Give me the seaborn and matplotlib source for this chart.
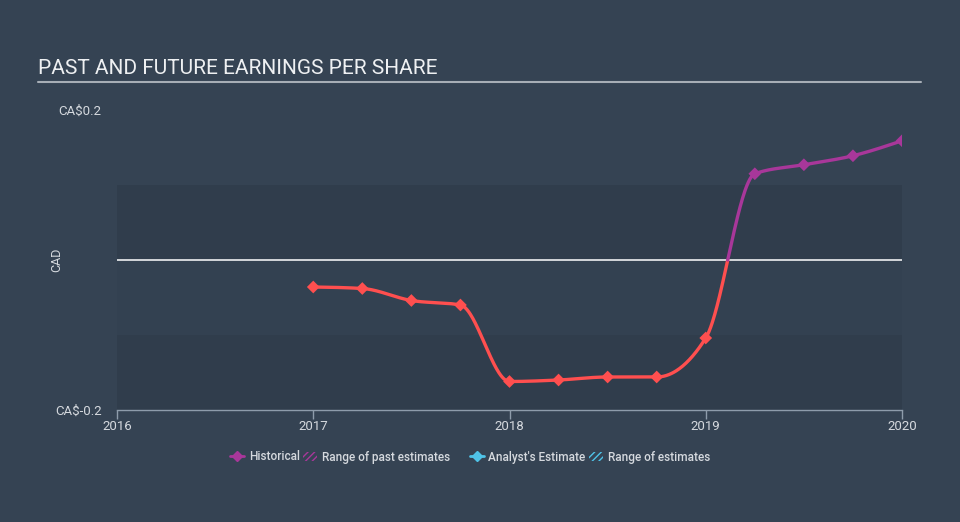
import numpy as np
import pandas as pd
import seaborn as sns
import matplotlib
matplotlib.use("Agg")
import matplotlib.pyplot as plt
from matplotlib.lines import Line2D
from matplotlib.patches import Patch

# ---- data ----
periods = [2017.0, 2017.25, 2017.5, 2017.75, 2018.0, 2018.25, 2018.5, 2018.75,
           2019.0, 2019.25, 2019.5, 2019.75, 2020.0]
eps = [-0.036, -0.038, -0.054, -0.060, -0.162, -0.160, -0.156, -0.156,
       -0.104, 0.115, 0.127, 0.139, 0.159]
year_ticks = [2016, 2017, 2018, 2019, 2020]
y_ticks = [-0.2, 0.2]
y_tick_labels = ["CA$-0.2", "CA$0.2"]

RED = "#ff4f4f"
PURPLE = "#a8379a"
BG = "#354353"
BAND = "#303d4c"
TXT = "#d5d9de"
AXC = "#8e9cab"

sns.set_theme(style="dark")
plt.rcParams["font.family"] = ["Roboto", "DejaVu Sans"]


def monotone_x(x, y, n=60):
    x = np.asarray(x, float)
    y = np.asarray(y, float)
    h = np.diff(x)
    s = np.diff(y) / h
    m = np.zeros_like(y)
    for i in range(1, len(x) - 1):
        s0, s1 = s[i - 1], s[i]
        p = (s0 * h[i] + s1 * h[i - 1]) / (h[i - 1] + h[i])
        m[i] = (np.sign(s0) + np.sign(s1)) * min(abs(s0), abs(s1), 0.5 * abs(p))
    m[0] = (3 * s[0] - m[1]) / 2
    m[-1] = (3 * s[-1] - m[-2]) / 2
    xs, ys = [], []
    for i in range(len(x) - 1):
        t = np.linspace(0, 1, n, endpoint=False)
        h00 = 2 * t**3 - 3 * t**2 + 1
        h10 = t**3 - 2 * t**2 + t
        h01 = -2 * t**3 + 3 * t**2
        h11 = t**3 - t**2
        xs.append(x[i] + t * h[i])
        ys.append(h00 * y[i] + h10 * h[i] * m[i] + h01 * y[i + 1] + h11 * h[i] * m[i + 1])
    xs.append([x[-1]])
    ys.append([y[-1]])
    return np.concatenate(xs), np.concatenate(ys)


cx, cy = monotone_x(periods, eps)
k = int(np.argmax(cy > 0))
xz = cx[k - 1] + (0 - cy[k - 1]) * (cx[k] - cx[k - 1]) / (cy[k] - cy[k - 1])
neg = pd.DataFrame({"x": np.r_[cx[:k], xz], "y": np.r_[cy[:k], 0.0]})
pos = pd.DataFrame({"x": np.r_[xz, cx[k:]], "y": np.r_[0.0, cy[k:]]})
pts = pd.DataFrame({"x": periods, "y": eps})
pts["sign"] = np.where(pts["y"] < 0, "neg", "pos")

fig = plt.figure(figsize=(9.6, 5.22), dpi=100)
fig.patch.set_facecolor(BG)
ax = fig.add_axes([117 / 960, 1 - 410 / 522, (902 - 117) / 960, 300 / 522])
ax.set_facecolor(BG)

ax.set_xlim(2016, 2020)
ax.set_ylim(-0.2, 0.2)

# bands
ax.axhspan(0.0, 0.1, color=BAND, lw=0, zorder=0)
ax.axhspan(-0.2, -0.1, color=BAND, lw=0, zorder=0)
ax.axhspan(-0.1, 0.0, color="#334151", lw=0, zorder=0)
ax.axhline(0, color="white", lw=1.1, zorder=1)

sns.lineplot(data=neg, x="x", y="y", sort=False, estimator=None, color=RED,
             lw=2.4, ax=ax, zorder=3)
sns.lineplot(data=pos, x="x", y="y", sort=False, estimator=None, color=PURPLE,
             lw=2.4, ax=ax, zorder=3)
sns.scatterplot(data=pts, x="x", y="y", hue="sign", palette={"neg": RED, "pos": PURPLE},
                marker="D", s=42, edgecolor="none", legend=False, ax=ax, zorder=4)

ax.set_xlabel("")
ax.set_ylabel("CAD", color=TXT, fontsize=9)
ax.yaxis.set_label_coords((63 - 117) / 785, 0.5)
ax.set_xticks(year_ticks)
ax.set_xticklabels([str(t) for t in year_ticks], color=TXT, fontsize=9.5)
ax.set_yticks(y_ticks)
ax.set_yticklabels(y_tick_labels, color=TXT, fontsize=9.5)
ax.tick_params(axis="x", length=6.5, width=1, color=AXC, pad=1, direction="out", bottom=True)
ax.tick_params(axis="y", length=0, pad=11)
for s in ["top", "right", "left"]:
    ax.spines[s].set_visible(False)
ax.spines["bottom"].set_color(AXC)
ax.spines["bottom"].set_linewidth(1)
ax.grid(False)

# title
fig.text(38 / 960, 1 - 69 / 522, "PAST AND FUTURE EARNINGS PER SHARE", color="#eef0f2",
         fontsize=15, va="center", ha="left")
fig.add_artist(Line2D([38 / 960, 921 / 960], [1 - 82 / 522, 1 - 82 / 522],
                      color="#a7aeb6", lw=1.5, transform=fig.transFigure))

# legends
BLUE = "#4fc3e8"
h1 = [Line2D([0], [0], color=PURPLE, marker="D", markersize=5, lw=2),
      Patch(facecolor="none", edgecolor=PURPLE, hatch="/////", lw=0)]
h2 = [Line2D([0], [0], color=BLUE, marker="D", markersize=5, lw=2),
      Patch(facecolor="none", edgecolor=BLUE, hatch="/////", lw=0)]
lp = {"size": 8.5, "weight": "medium"}
leg1 = fig.legend(h1, ["Historical", "Range of past estimates"], ncol=2, frameon=False,
                  loc="center", bbox_to_anchor=(340 / 960, 1 - 457 / 522),
                  prop=lp, labelcolor=TXT, handlelength=1.2, handletextpad=0.4,
                  columnspacing=0.3)
leg2 = fig.legend(h2, ["Analyst's Estimate", "Range of estimates"], ncol=2, frameon=False,
                  loc="center", bbox_to_anchor=(590 / 960, 1 - 457 / 522),
                  prop=lp, labelcolor=TXT, handlelength=1.2, handletextpad=0.4,
                  columnspacing=0.3)

fig.savefig("out.png", dpi=100, facecolor=BG)
